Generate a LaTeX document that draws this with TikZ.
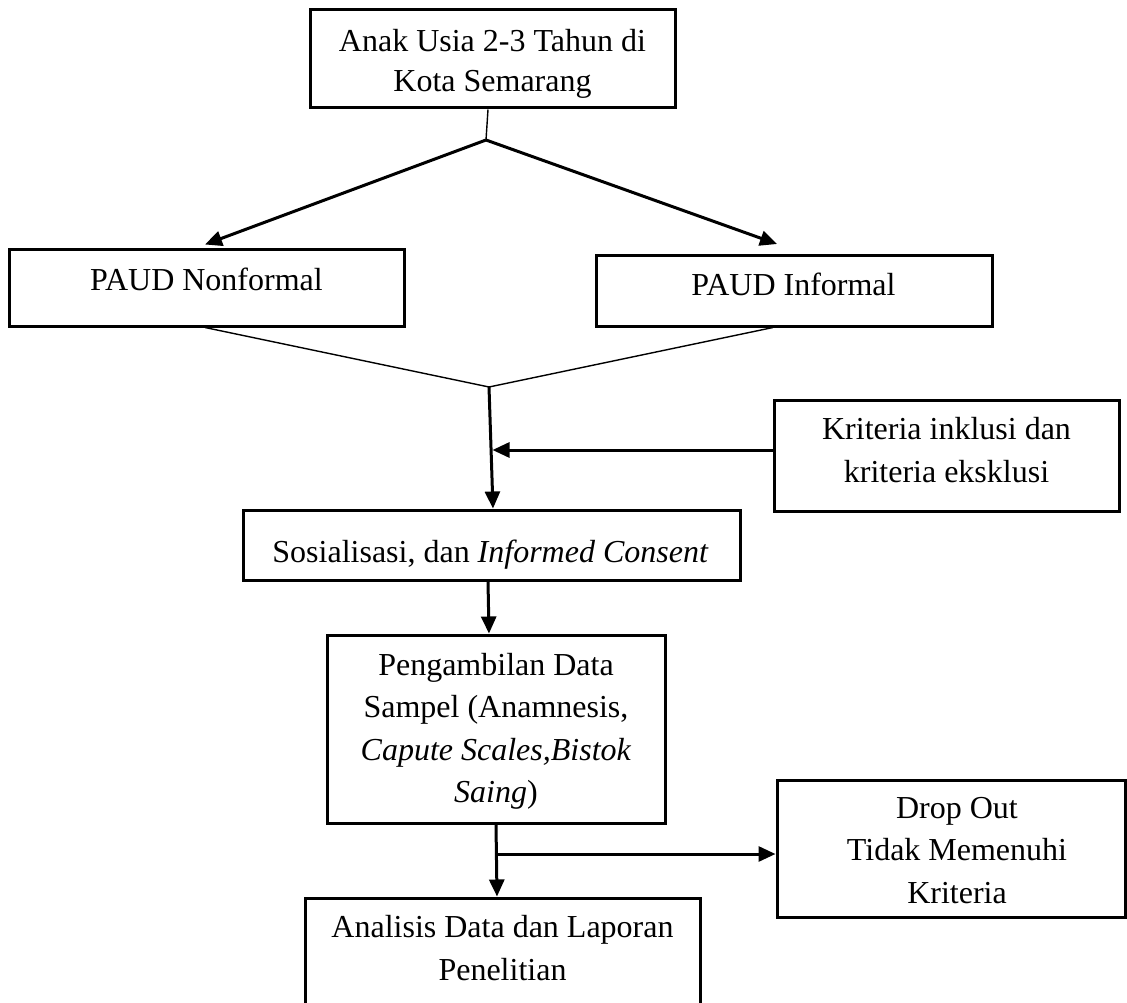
\documentclass[tikz,border=0pt]{standalone}
\usepackage{fontspec}
\setmainfont{Liberation Serif}
\usetikzlibrary{arrows.meta}
\begin{document}
\begin{tikzpicture}[x=1pt,y=-1pt,
  box/.style={draw, line width=3pt, rectangle, inner sep=0pt, anchor=center},
  txt/.style={inner sep=0pt, align=center, font=\fontsize{32}{42.5}\selectfont},
  arr/.style={line width=3pt, -{Triangle[length=17pt,width=15pt]}},
  thin line/.style={line width=1.4pt}]
\useasboundingbox (0,0) rectangle (1127,1003);
\fill[white] (0,0) rectangle (1127,1003);

% boxes
\node[box, minimum width=365pt, minimum height=98pt] (top) at (492.5,59) {};
\node[box, minimum width=395pt, minimum height=77pt] (nonf) at (206.5,287.5) {};
\node[box, minimum width=396pt, minimum height=71pt] (inf) at (794,290.5) {};
\node[box, minimum width=345pt, minimum height=111pt] (krit) at (946.5,455.5) {};
\node[box, minimum width=497pt, minimum height=70pt] (sos) at (491.5,545) {};
\node[box, minimum width=338pt, minimum height=188pt] (peng) at (496,729) {};
\node[box, minimum width=348pt, minimum height=137pt] (drop) at (951,848.5) {};
\node[box, minimum width=395pt, minimum height=117pt] (anal) at (502.5,956.5) {};

% texts
\node[txt, font=\fontsize{32}{40}\selectfont] (topT) at (492.5,64) {\strut Anak Usia 2-3 Tahun di\\\strut Kota Semarang};
\node[txt] (nonfT) at (206.5,281.5) {\strut PAUD Nonformal};
\node[txt] (infT) at (793.5,286.5) {\strut PAUD Informal};
\node[txt] (kritT) at (946.5,452.5) {\strut Kriteria inklusi dan\\\strut kriteria eksklusi};
\node[txt] (sosT) at (490.5,553.5) {\strut Sosialisasi, dan \textit{Informed Consent}};
\node[txt] (pengT) at (496,730.5) {\strut Pengambilan Data\\\strut Sampel (Anamnesis,\\\strut\textit{Capute Scales,Bistok}\\\strut\textit{Saing})};
\node[txt] (dropT) at (957,852) {\strut Drop Out\\\strut Tidak Memenuhi\\\strut Kriteria};
\node[txt] (analT) at (502.5,950.5) {\strut Analisis Data dan Laporan\\\strut Penelitian};

% junctions
\coordinate (j1) at (486,140);
\coordinate (j2) at (489,387);
\coordinate (k2) at (492.5,450);
\coordinate (b1) at (496.5,854);

% connectors
\draw[thin line] ([xshift=-4.5pt]top.south) -- (j1);
\draw[arr] (j1) -- ([xshift=-1.5pt,yshift=3pt]nonf.north);
\draw[arr] (j1) -- ([xshift=-17pt,yshift=9.5pt]inf.north);
\draw[thin line] ([xshift=-1.5pt]nonf.south) -- (j2);
\draw[thin line] ([xshift=-21pt]inf.south) -- (j2);
\draw[arr] (j2) -- ([xshift=1.5pt]sos.north);
\draw[arr] ([yshift=5.5pt]krit.west) -- (k2);
\draw[arr] ([xshift=-3.5pt]sos.south) -- ([xshift=-7pt]peng.north);
\draw[arr] (peng.south) -- ([xshift=-5.5pt]anal.north);
\draw[arr] (b1) -- ([yshift=-5.5pt]drop.west);
\end{tikzpicture}
\end{document}
